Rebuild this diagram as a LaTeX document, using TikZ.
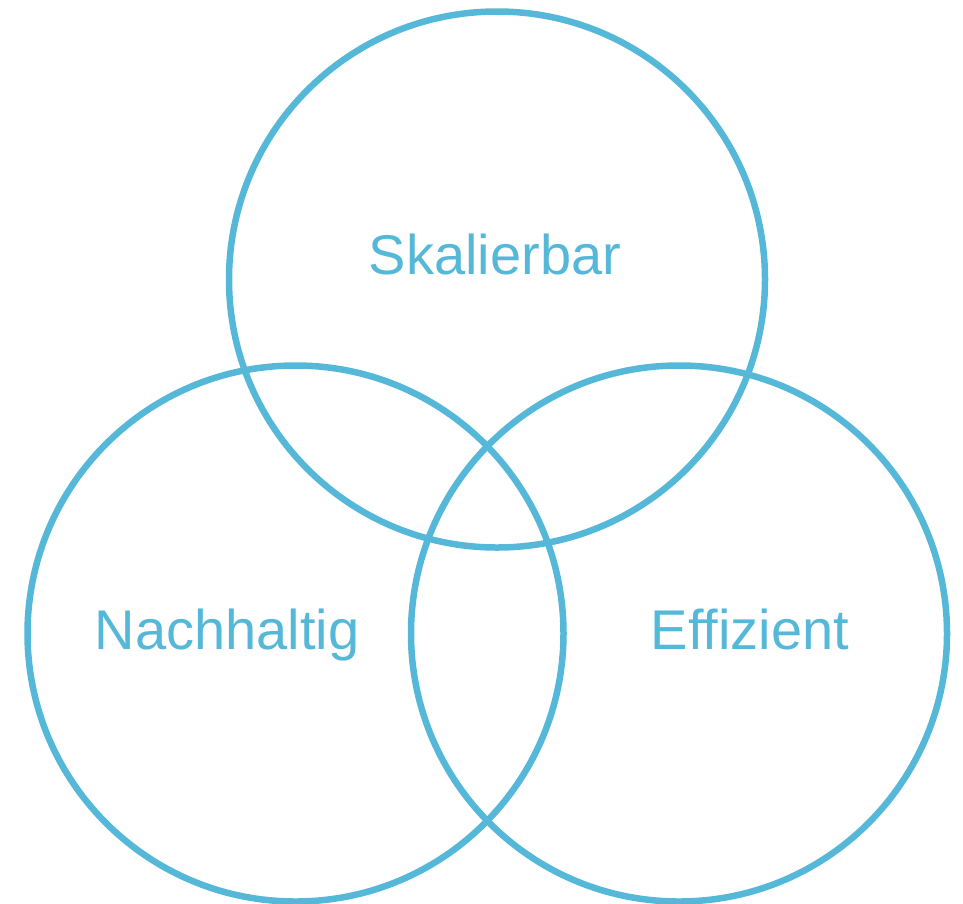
\documentclass[tikz,border=0pt]{standalone}
\usepackage{fontspec}
\setmainfont{Liberation Sans}
\definecolor{venn}{RGB}{86,184,216}
\begin{document}
\begin{tikzpicture}[x=1pt,y=-1pt,
  ring/.style={draw=venn,line width=6.5pt,circle,minimum size=536pt,inner sep=0pt},
  lbl/.style={text=venn,font=\fontsize{56}{60}\selectfont,anchor=base,inner sep=0pt}]
\useasboundingbox (0,0) rectangle (963,903);
\node[ring] (top) at (497,279.5) {};
\node[ring] (left) at (295.5,633.5) {};
\node[ring] (right) at (679,633.5) {};
\node[lbl] (t1) at (495,274) {Skalierbar};
\node[lbl] (t2) at (227,649) {Nachhaltig};
\node[lbl] (t3) at (750,649) {Effizient};
\end{tikzpicture}
\end{document}
